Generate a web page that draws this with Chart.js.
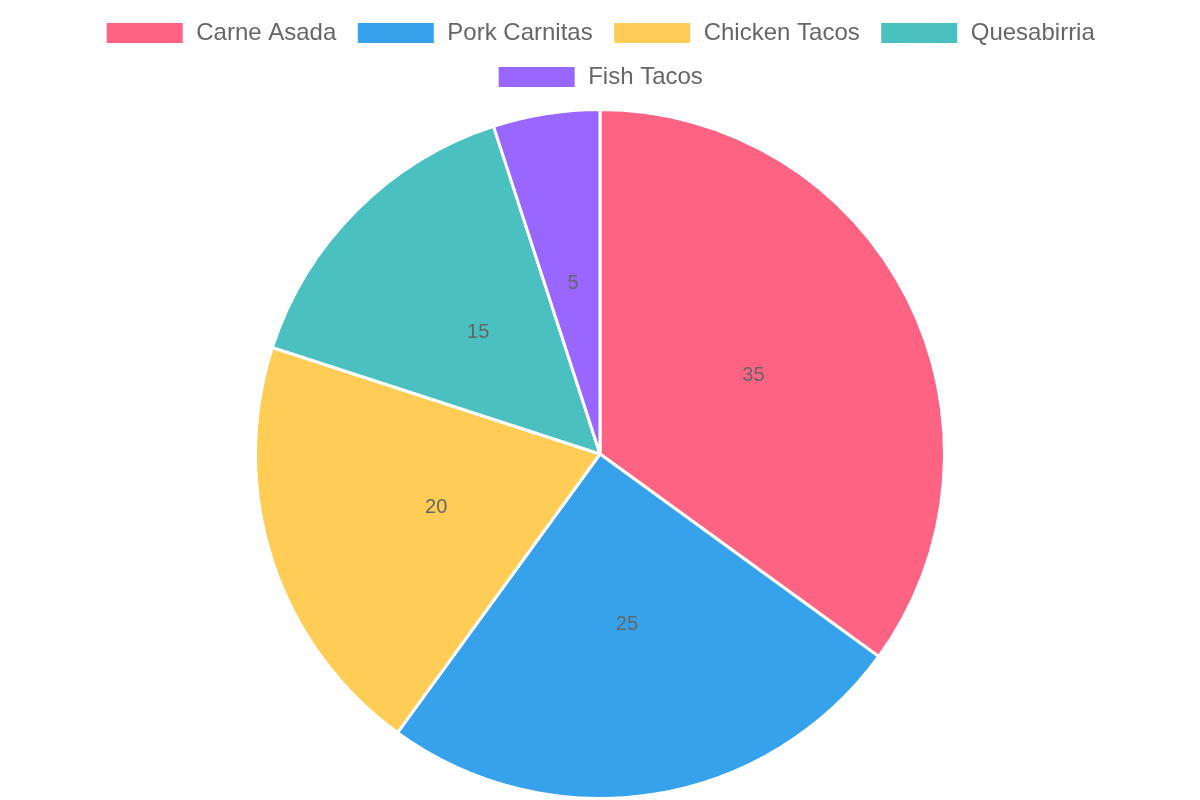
<!DOCTYPE html>
<html>
<head>
<meta charset="utf-8">
<script src="https://cdn.jsdelivr.net/npm/chart.js@4"></script>
<style>
  html, body { margin: 0; padding: 0; background: #fff; }
  #wrap { width: 1200px; height: 800px; }
</style>
</head>
<body>
<div id="wrap"><canvas id="myChart"></canvas></div>
<script>
const labels = ["Carne Asada", "Pork Carnitas", "Chicken Tacos", "Quesabirria", "Fish Tacos"];
const values = [35, 25, 20, 15, 5];
const colors = ["#ff6384", "#36a2eb", "#ffcd56", "#4bc0c0", "#9966ff"];

// draw each value in the middle of its slice
const sliceLabels = {
  id: "sliceLabels",
  afterDatasetsDraw(chart) {
    const ctx = chart.ctx;
    const meta = chart.getDatasetMeta(0);
    ctx.save();
    ctx.font = "20px 'Liberation Sans', Arial, sans-serif";
    ctx.fillStyle = "#666";
    ctx.textAlign = "center";
    ctx.textBaseline = "middle";
    meta.data.forEach((arc, i) => {
      const pos = arc.tooltipPosition();
      ctx.fillText(values[i], pos.x, pos.y);
    });
    ctx.restore();
  },
};

// a bit more room under the legend
const legendGap = {
  id: "legendGap",
  beforeInit(chart) {
    const fit = chart.legend.fit;
    chart.legend.fit = function () {
      fit.bind(chart.legend)();
      this.height += 9;
    };
  },
};

const ctx = document.getElementById("myChart");
new Chart(ctx, {
  type: "pie",
  data: {
    labels: labels,
    datasets: [{
      data: values,
      backgroundColor: colors,
      borderColor: "#fff",
      borderWidth: 3,
    }],
  },
  options: {
    responsive: true,
    maintainAspectRatio: false,
    animation: false,
    layout: { padding: { top: 1 } },
    plugins: {
      legend: {
        position: "top",
        labels: {
          color: "#666",
          font: { size: 24, family: "'Liberation Sans', Arial, sans-serif" },
          boxWidth: 79,
          boxHeight: 23,
          padding: 20,
        },
      },
      tooltip: { enabled: false },
    },
  },
  plugins: [sliceLabels, legendGap],
});
</script>
</body>
</html>
